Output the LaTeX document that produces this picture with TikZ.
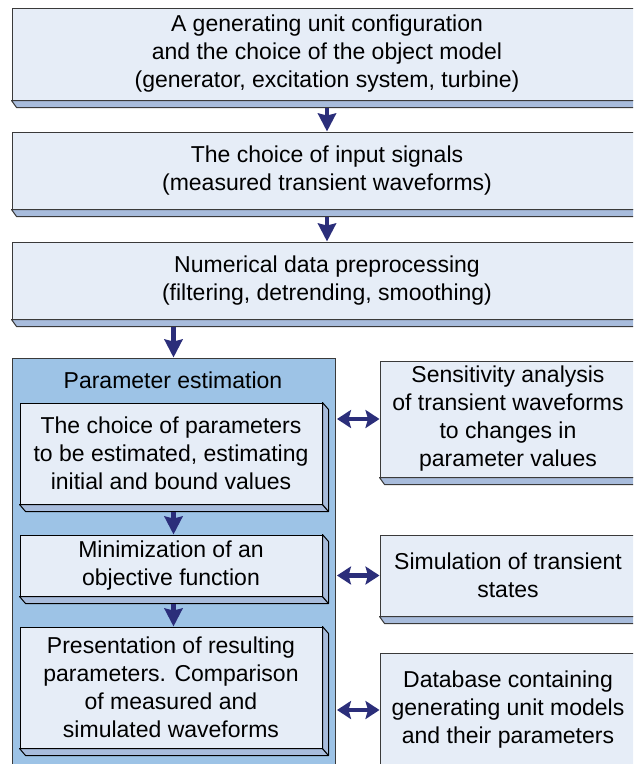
\documentclass[tikz,border=0pt]{standalone}
\usepackage{fontspec}
\setmainfont{Liberation Sans}
\usetikzlibrary{arrows.meta}
\definecolor{frontc}{HTML}{E6EDF7}
\definecolor{shelfc}{HTML}{A8BCDC}
\definecolor{outerc}{HTML}{9DC3E6}
\definecolor{arrowc}{HTML}{2B2E7A}
\definecolor{edgec}{HTML}{3A3A3A}
\begin{document}
\begin{tikzpicture}[x=1pt,y=-1pt,
  txt/.style={font=\fontsize{23}{28}\selectfont, align=center},
  topbox/.style={draw=edgec, line width=1pt, fill=frontc, inner sep=0pt, txt},
  innerbox/.style={draw=black, line width=1pt, fill=frontc, inner sep=0pt, txt},
  shelf/.style={draw=edgec, line width=1pt, fill=shelfc, line join=round},
  ishelf/.style={draw=black, line width=1pt, fill=shelfc, line join=round},
  varrow/.style={draw=arrowc, line width=4.5pt, -{Stealth[length=18pt,width=18pt,inset=2pt]}},
  darrow/.style={draw=arrowc, line width=4.5pt, shorten <=1.5pt,
    {Stealth[length=14pt,width=18pt,inset=2.5pt]}-{Stealth[length=14pt,width=18pt,inset=2.5pt]}}]
\useasboundingbox (0,0) rectangle (633,764);
\clip (0,0) rectangle (633,764);
\fill[white] (0,0) rectangle (633,764);

% top chain
\node[topbox, minimum width=630pt, minimum height=92pt] (b1) at (327,54)
  {A generating unit configuration\\and the choice of the object model\\(generator, excitation system, turbine)};
\node[topbox, minimum width=630pt, minimum height=77pt] (b2) at (327,170.5)
  {The choice of input signals\\(measured transient waveforms)};
\node[topbox, minimum width=630pt, minimum height=77pt] (b3) at (327,280.5)
  {Numerical data preprocessing\\(filtering, detrending, smoothing)};
\foreach \b in {b1,b2,b3}{
  \draw[shelf] (\b.south west) -- (\b.south east) -- ++(5,7) -- ([shift={(5,7)}]\b.south west) -- cycle;
}

% parameter estimation block
\node[draw=edgec, line width=1pt, fill=outerc, minimum width=323pt, minimum height=462pt, inner sep=0pt] (pe) at (173.5,589) {};
\node[txt, inner sep=0pt] (pet) at (173,380) {Parameter estimation};

\node[innerbox, minimum width=302pt, minimum height=101pt] (i1) at (171,453.5)
  {The choice of parameters\\to be estimated, estimating\\initial and bound values};
\node[innerbox, minimum width=302pt, minimum height=61pt] (i2) at (171,565.5)
  {Minimization of an\\objective function};
\node[innerbox, minimum width=302pt, minimum height=121pt] (i3) at (171,687.5)
  {Presentation of resulting\\parameters. Comparison\\of measured and\\simulated waveforms};
\foreach \b in {i1,i2,i3}{
  \draw[ishelf] (\b.south west) -- (\b.south east) -- ++(6,7) -- ([shift={(6,7)}]\b.south west) -- cycle;
  \draw[ishelf] (\b.north east) -- ++(6,7) -- ([shift={(6,7)}]\b.south east) -- (\b.south east) -- cycle;
}

% right column
\node[topbox, minimum width=256pt, minimum height=116pt] (r1) at (508,419)
  {Sensitivity analysis\\of transient waveforms\\to changes in\\parameter values};
\node[topbox, minimum width=256pt, minimum height=81pt] (r2) at (508,575.5)
  {Simulation of transient\\states};
\node[topbox, minimum width=256pt, minimum height=114pt] (r3) at (508,710)
  {Database containing\\generating unit models\\and their parameters};
\foreach \b in {r1,r2,r3}{
  \draw[shelf] (\b.south west) -- (\b.south east) -- ++(5,7) -- ([shift={(5,7)}]\b.south west) -- cycle;
}

% arrows
\draw[varrow] ([yshift=-7pt]b1.south) -- (b2.north);
\draw[varrow] ([yshift=-7pt]b2.south) -- (b3.north);
\draw[varrow] ([yshift=-7pt]b3.south -| pe.north) -- (pe.north);
\draw[varrow] ([yshift=-7pt]i1.south -| pe.north) -- (i2.north -| pe.north);
\draw[varrow] ([yshift=-7pt]i2.south -| pe.north) -- (i3.north -| pe.north);
\draw[darrow] (r1.west -| pe.east) -- (r1.west);
\draw[darrow] (r2.west -| pe.east) -- (r2.west);
\draw[darrow] (r3.west -| pe.east) -- (r3.west);
\end{tikzpicture}
\end{document}
